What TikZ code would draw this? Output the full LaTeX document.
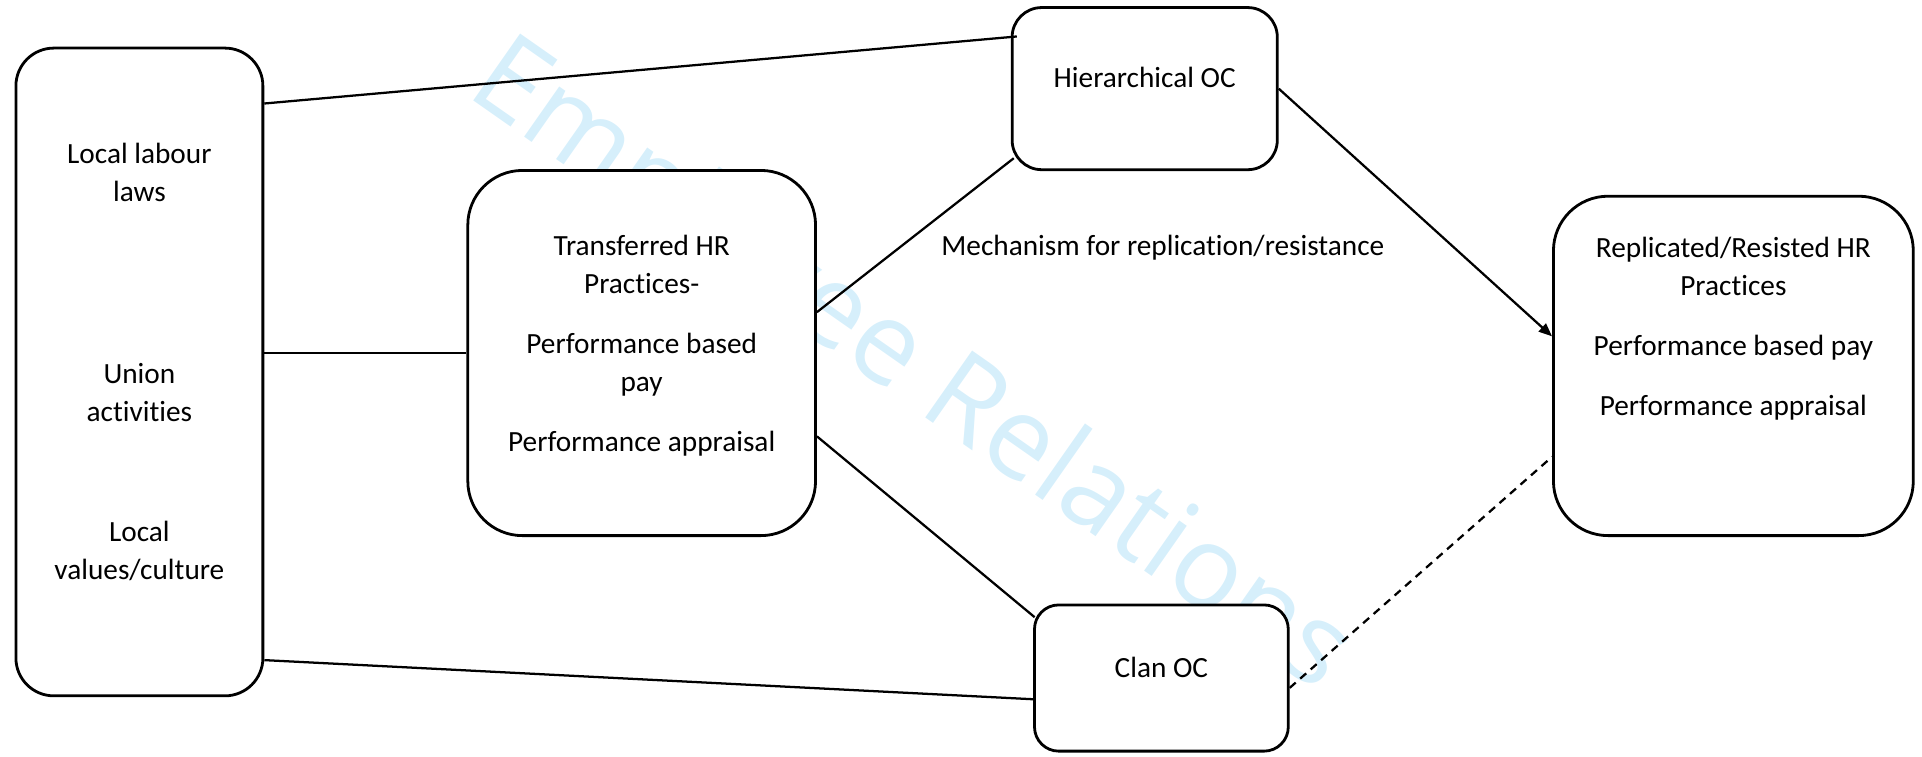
\documentclass[tikz,border=0pt]{standalone}
\usepackage{fontspec}
\setmainfont{Carlito}[Ligatures=CommonOff]
\newfontfamily\wmfont{Open Sans}
\usetikzlibrary{arrows.meta,positioning}
\definecolor{wmblue}{RGB}{214,239,251}
\newcommand{\padbelow}[1]{\vrule width 0pt depth #1}

\begin{document}
\begin{tikzpicture}[
    box/.style={draw,rounded corners=#1,fill=white,line width=1.05pt,
                align=center,inner sep=0pt,
                font=\fontsize{11}{14.27}\selectfont},
    box/.default=6pt,
    link/.style={line width=0.85pt},
    arr/.style={link,-{Triangle[length=5pt,width=4pt]}},
    wm/.style={font=\wmfont\fontsize{43}{43}\selectfont,text=wmblue,
               rotate=-35,anchor=base west,inner sep=0pt},
  ]
    \useasboundingbox (0,0) rectangle (25.37,9.99);
    \node[wm](mark) at (6.13,8.74){Employee Relations};
    \node[box=0.5cm,minimum width=3.26cm,minimum height=8.55cm](lbox) at (1.84,5.08)
      {Local labour\\laws\\[54.1pt]Union\\activities\\[30.8pt]Local\\values/culture\padbelow{7.9pt}};
    \node[box=0.72cm,minimum width=4.59cm,minimum height=4.82cm](hrp) at (8.47,5.33)
      {Transferred HR\\Practices-\\[8.3pt]Performance based\\pay\\[8.3pt]Performance appraisal\padbelow{7.5pt}};
    \node[box=0.39cm,minimum width=3.50cm,minimum height=2.14cm](hoc) at (15.11,8.82)
      {Hierarchical OC\padbelow{8.2pt}};
    \node[box=0.32cm,minimum width=3.35cm,minimum height=1.93cm](coc) at (15.33,1.04)
      {Clan OC\padbelow{8.2pt}};
    \node[box=0.72cm,minimum width=4.75cm,minimum height=4.48cm](rep) at (22.88,5.16)
      {Replicated/Resisted HR\\Practices\\[8.3pt]Performance based pay\\[8.3pt]Performance appraisal\padbelow{30pt}};
    \node[font=\fontsize{11}{14.27}\selectfont](mech) at (15.35,6.72)
      {Mechanism for replication/resistance};
    \draw[link]([yshift=-0.75cm]lbox.north east)--([xshift=0.08cm,yshift=-0.40cm]hoc.north west);
    \draw[link](lbox.east |- hrp.west)--(hrp.west);
    \draw[link]([yshift=0.49cm]lbox.south east)--([yshift=-0.28cm]coc.west);
    \draw[link]([yshift=0.54cm]hrp.east)--([xshift=0.04cm,yshift=0.17cm]hoc.south west);
    \draw[link]([yshift=-1.10cm]hrp.east)--([xshift=0.02cm,yshift=-0.18cm]coc.north west);
    \draw[arr](hoc.east)--([yshift=0.39cm]rep.west);
    \draw[link,dash pattern=on 3pt off 2.25pt]([yshift=-0.13cm]coc.east)--([yshift=-1.20cm]rep.west);
  \end{tikzpicture}
\end{document}
